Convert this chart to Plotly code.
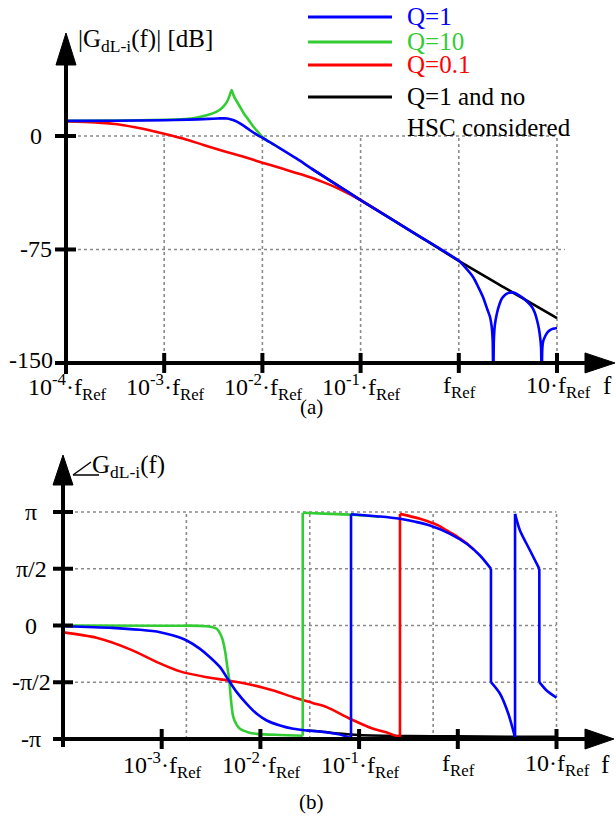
import numpy as np
import plotly.graph_objects as go

W, H = 616, 819

# ---------------- data (x = log10(f / f_Ref)) ----------------
mag_q1_logf = [-4.0, -3.5, -3.0, -2.75, -2.55, -2.45, -2.36, -2.30, -2.26, -2.20, -2.13, -2.05,
               -1.99, -1.90, -1.82, -1.65, -1.5, -1.25, -1.0, -0.5, 0.0, 0.07, 0.145, 0.2, 0.246,
               0.29, 0.318, 0.335, 0.345, 0.351, 0.357, 0.367, 0.389, 0.415, 0.44, 0.47, 0.501,
               0.535, 0.572, 0.61, 0.654, 0.70, 0.745, 0.775, 0.796, 0.815, 0.830, 0.838, 0.844,
               0.850, 0.858, 0.878, 0.90, 0.929, 0.96, 1.0]
mag_q1_db = [10.0, 10.1, 10.4, 10.8, 11.3, 11.6, 11.6, 10.6, 9.5, 7.2, 4.0, 0.6,
             -1.5, -5.0, -8.1, -15.0, -21.5, -32.0, -42.3, -62.3, -82.5, -87.2, -93.2, -100.0, -106.4,
             -114.5, -119.6, -126.0, -135.0, -175.0, -135.0, -125.0, -117.0, -111.0, -107.2, -105.0, -103.8,
             -103.3, -103.8, -105.2, -107.1, -109.8, -113.0, -117.0, -121.6, -127.0, -134.0, -140.0, -175.0,
             -141.0, -136.0, -132.5, -130.0, -128.3, -127.4, -126.9]

mag_q10_logf = [-4.0, -3.5, -3.0, -2.75, -2.64, -2.55, -2.47, -2.42, -2.38, -2.35, -2.33, -2.313,
                -2.30, -2.285, -2.262, -2.23, -2.195, -2.14, -2.093, -2.04, -1.991, -1.90, -1.82]
mag_q10_db = [10.0, 10.2, 10.7, 11.4, 12.6, 14.0, 16.0, 18.0, 20.8, 24.0, 27.5, 30.4,
              28.0, 25.5, 23.0, 19.5, 15.5, 10.5, 6.3, 2.3, -1.3, -5.0, -8.1]

mag_q01_logf = [-4.0, -3.7, -3.5, -3.3, -3.15, -3.0, -2.8, -2.6, -2.4, -2.2, -2.0, -1.8,
                -1.6, -1.4, -1.2, -1.0, -0.8]
mag_q01_db = [9.7, 9.0, 7.9, 5.8, 3.8, 1.5, -1.8, -5.9, -9.9, -13.6, -17.6, -21.5,
              -25.5, -30.0, -35.5, -42.3, -50.3]

mag_nohsc_logf = [-1.5, -1.25, -1.0, -0.5, 0.0, 0.5, 1.0]
mag_nohsc_db = [-21.5, -32.0, -42.3, -62.3, -82.5, -101.5, -120.3]

ph_q1_logf = [-4.0, -3.5, -3.22, -3.017, -2.882, -2.747, -2.612, -2.511, -2.409, -2.325, -2.24,
              -2.139, -2.037, -1.936, -1.801, -1.667, -1.531, -1.396, -1.25, -1.15, -1.082,
              -1.082, -0.95, -0.788, -0.586, -0.43, -0.282, -0.079, 0.09, 0.225, 0.336,
              0.336, 0.428, 0.512, 0.58,
              0.58, 0.63, 0.732, 0.826,
              0.826, 0.90, 1.0]
ph_q1_rad = [-0.02, -0.066, -0.12, -0.185, -0.277, -0.415, -0.646, -0.877, -1.153, -1.504, -1.845,
             -2.168, -2.444, -2.629, -2.768, -2.86, -2.906, -2.934, -2.99, -3.05, -3.12,
             3.08, 3.05, 3.017, 2.953, 2.87, 2.768, 2.538, 2.261, 1.937, 1.569,
             -1.569, -1.89, -2.444, -3.10,
             3.09, 2.63, 2.076, 1.569,
             -1.569, -1.80, -2.0]

ph_q10_logf = [-4.0, -2.9, -2.544, -2.443, -2.392, -2.359, -2.335, -2.315, -2.301, -2.275, -2.24,
               -2.207, -2.12, -2.037, -1.8, -1.571,
               -1.571, -1.3, -1.082, -0.95, -0.788]
ph_q10_rad = [0.0, -0.005, -0.02, -0.09, -0.32, -0.69, -1.15, -1.52, -1.98, -2.53, -2.75,
              -2.86, -2.96, -3.0, -3.03, -3.05,
              3.12, 3.09, 3.07, 3.045, 3.01]

ph_q01_logf = [-4.0, -3.66, -3.32, -3.017, -2.815, -2.544, -2.325, -2.105, -1.869, -1.667, -1.464,
               -1.328, -1.092, -0.856, -0.7, -0.586,
               -0.586, -0.383, -0.2, -0.113, 0.0, 0.09, 0.16]
ph_q01_rad = [-0.19, -0.34, -0.66, -1.05, -1.27, -1.43, -1.522, -1.633, -1.80, -1.984, -2.15,
              -2.26, -2.58, -2.86, -2.98, -3.10,
              3.09, 2.953, 2.77, 2.63, 2.45, 2.275, 2.10]

ph_nohsc_logf = [-1.531, -1.396, -1.2, -1.0, -0.5, 0.0, 0.5, 1.0]
ph_nohsc_rad = [-2.906, -2.934, -2.99, -3.03, -3.06, -3.07, -3.08, -3.08]

mag_ticks = [0, -75, -150]
mag_tick_text = ["0", "-75", "-150"]
freq_ticks = [-4, -3, -2, -1, 0, 1]
freq_tick_text = ["10<sup>-4</sup>·f<sub>Ref</sub>", "10<sup>-3</sup>·f<sub>Ref</sub>",
                  "10<sup>-2</sup>·f<sub>Ref</sub>", "10<sup>-1</sup>·f<sub>Ref</sub>",
                  "f<sub>Ref</sub>", "10·f<sub>Ref</sub>"]
phase_ticks = [np.pi, np.pi / 2, 0, -np.pi / 2, -np.pi]
phase_tick_text = ["π", "π/2", "0", "-π/2", "-π"]
phase_vgrid = [-2.75, -1.5, -0.25, 1.0]

series = [("Q=1", "#0000FF"), ("Q=10", "#33CC33"), ("Q=0.1", "#FF0000"),
          ("Q=1 and no<br>HSC considered", "#000000")]

# ---------------- geometry helpers ----------------
TX0, TPD, TY0, TPDB = 66, 98.2, 136, 1.513          # top: px of 1e-4, px/decade, px of 0 dB, px/dB
BX0, BPD, BY0, BPR = 63, 98.7, 625.5, 36.13          # bottom: px of 1e-4, px/decade, px of 0 rad, px/rad


def P(px, py):
    return px / W, 1 - py / H


def top_px(lf, db):
    return TX0 + (lf + 4) * TPD, TY0 - db * TPDB


def bot_px(lf, ph):
    return BX0 + (lf + 4) * BPD, BY0 - ph * BPR


def with_jumps(lx, ly):
    xs, ys = [], []
    for i, (a, b) in enumerate(zip(lx, ly)):
        if i > 0 and a == lx[i - 1]:
            pa, pb = lx[i - 1], ly[i - 1]
            xs += [None, pa, a, None, a]
            ys += [None, pb, b, None, b]
        else:
            xs.append(a)
            ys.append(b)
    return [10 ** x if x is not None else None for x in xs], ys


FONT = "'Liberation Serif', 'DejaVu Serif', serif"
fig = go.Figure()

order = [(mag_nohsc_logf, mag_nohsc_db, ph_nohsc_logf, ph_nohsc_rad, "#000000"),
         (mag_q01_logf, mag_q01_db, ph_q01_logf, ph_q01_rad, "#FF0000"),
         (mag_q10_logf, mag_q10_db, ph_q10_logf, ph_q10_rad, "#33CC33"),
         (mag_q1_logf, mag_q1_db, ph_q1_logf, ph_q1_rad, "#0000FF")]
for mlf, mdb, plf, prad, col in order:
    x, y = with_jumps(mlf, mdb)
    fig.add_trace(go.Scatter(x=x, y=y, mode="lines", xaxis="x", yaxis="y",
                             line=dict(color=col, width=2.6, shape="spline", smoothing=0.8),
                             connectgaps=False, showlegend=False, hoverinfo="skip"))
    x, y = with_jumps(plf, prad)
    fig.add_trace(go.Scatter(x=x, y=y, mode="lines", xaxis="x2", yaxis="y2",
                             line=dict(color=col, width=2.6, shape="spline", smoothing=0.8),
                             connectgaps=False, showlegend=False, hoverinfo="skip"))

shapes = []
ann = []
GRID = dict(color="#8a8a8a", width=1.6, dash="3px,3px")

for lf in freq_ticks[1:]:
    shapes.append(dict(type="line", xref="x", yref="y", x0=10 ** lf, x1=10 ** lf, y0=-150, y1=0,
                       line=GRID, layer="below"))
shapes.append(dict(type="line", xref="x", yref="y", x0=1e-4, x1=10 ** 1.01, y0=0, y1=0,
                   line=GRID, layer="below"))
shapes.append(dict(type="line", xref="x", yref="y", x0=1e-4, x1=10 ** 1.08, y0=-75, y1=-75,
                   line=GRID, layer="below"))

for ph in phase_ticks[:-1]:
    shapes.append(dict(type="line", xref="x2", yref="y2", x0=1e-4, x1=10.0, y0=ph, y1=ph,
                       line=GRID, layer="below"))
for lf in phase_vgrid:
    shapes.append(dict(type="line", xref="x2", yref="y2", x0=10 ** lf, x1=10 ** lf,
                       y0=-np.pi, y1=np.pi, line=GRID, layer="below"))

AX = dict(color="black", width=4)


def pline(p0, p1, line=AX):
    x0, y0 = P(*p0)
    x1, y1 = P(*p1)
    shapes.append(dict(type="line", xref="paper", yref="paper", x0=x0, y0=y0, x1=x1, y1=y1, line=line))


def tri(pts):
    path = "M " + " L ".join("%f %f" % P(*p) for p in pts) + " Z"
    shapes.append(dict(type="path", xref="paper", yref="paper", path=path,
                       fillcolor="black", line=dict(color="black", width=1)))


def text(px, py, s, size=24, xanchor="center", color="black", yanchor="middle"):
    x, y = P(px, py)
    ann.append(dict(xref="paper", yref="paper", x=x, y=y, text=s, showarrow=False,
                    xanchor=xanchor, yanchor=yanchor, borderpad=0,
                    font=dict(family=FONT, size=size, color=color)))


# ---- top axes
ax_x, ax_y = top_px(-4, -150)
pline((ax_x, ax_y + 11), (ax_x, 62))
tri([(ax_x - 10, 65), (ax_x + 10, 65), (ax_x, 33)])
pline((ax_x - 11, ax_y), (588, ax_y))
tri([(585, ax_y - 10), (585, ax_y + 10), (615, ax_y)])
for v in mag_ticks[:-1]:
    _, py = top_px(-4, v)
    pline((ax_x - 11, py), (ax_x + 10, py))
for lf in freq_ticks[1:]:
    px, _ = top_px(lf, -150)
    pline((px, ax_y - 10), (px, ax_y + 10))
for v, t, rx, dy in zip(mag_ticks, mag_tick_text, [43, 53, 54], [0, 0, -3]):
    _, py = top_px(-4, v)
    text(rx, py + dy, t, xanchor="right")
for lf, t in zip(freq_ticks, freq_tick_text):
    px, _ = top_px(lf, -150)
    text(px + 1, 387, t)
text(607, 385, "f", size=25)
text(77, 40, "|G<sub>dL-i</sub>(f)| [dB]", size=25, xanchor="left")
text(312, 407, "(a)", size=21)

# ---- bottom axes
bx, by = bot_px(-4, -np.pi)
pline((bx, by + 8), (bx, 482))
tri([(bx - 10, 485), (bx + 10, 485), (bx, 455)])
pline((bx - 10, by), (588, by))
tri([(585, by - 10), (585, by + 10), (614, by)])
for v in phase_ticks[:-1]:
    _, py = bot_px(-4, v)
    pline((bx - 10, py), (bx + 10, py))
for lf in freq_ticks[1:]:
    px, _ = bot_px(lf, -np.pi)
    pline((px, by - 10), (px, by + 10))
for v, t in zip(phase_ticks, phase_tick_text):
    _, py = bot_px(-4, v)
    text(31, py, t)
for lf, t in zip(freq_ticks[1:], freq_tick_text[1:]):
    px, _ = bot_px(lf, -np.pi)
    text(px + 1, 765, t)
text(605, 764, "f", size=25)
pline((73, 475), (99, 475), line=dict(color="black", width=1.5))
pline((73, 475), (91, 462), line=dict(color="black", width=1.5))
text(91, 466, "G<sub>dL-i</sub>(f)", size=25, xanchor="left")
text(311, 802, "(b)", size=21)

# ---- legend
leg_y = [17, 42, 65, 97]
for (name, col), ly in zip(series, leg_y):
    pline((308, ly), (392, ly), line=dict(color=col, width=3))
text(406, 16, "Q=1", size=25, xanchor="left", color="#0000FF")
text(406, 41, "Q=10", size=25, xanchor="left", color="#33CC33")
text(406, 65, "Q=0.1", size=25, xanchor="left", color="#FF0000")
text(406, 96, "Q=1 and no", size=25, xanchor="left")
text(406, 127, "HSC considered", size=25, xanchor="left")

fig.update_layout(
    width=W, height=H, autosize=False,
    margin=dict(l=0, r=0, t=0, b=0),
    paper_bgcolor="white", plot_bgcolor="rgba(0,0,0,0)",
    showlegend=False,
    font=dict(family=FONT),
    xaxis=dict(type="log", domain=[TX0 / W, 614 / W], range=[-4, (614 - TX0) / TPD - 4],
               visible=False, anchor="y", fixedrange=True),
    yaxis=dict(domain=[1 - 363 / H, 1 - 30 / H], range=[-150, (TY0 - 30) / TPDB],
               visible=False, anchor="x", fixedrange=True),
    xaxis2=dict(type="log", domain=[BX0 / W, 614 / W], range=[-4, (614 - BX0) / BPD - 4],
                visible=False, anchor="y2", fixedrange=True),
    yaxis2=dict(domain=[1 - 739 / H, 1 - 450 / H], range=[-np.pi, (BY0 - 450) / BPR],
                visible=False, anchor="x2", fixedrange=True),
    shapes=shapes, annotations=ann,
)

fig.write_html("out.html")
